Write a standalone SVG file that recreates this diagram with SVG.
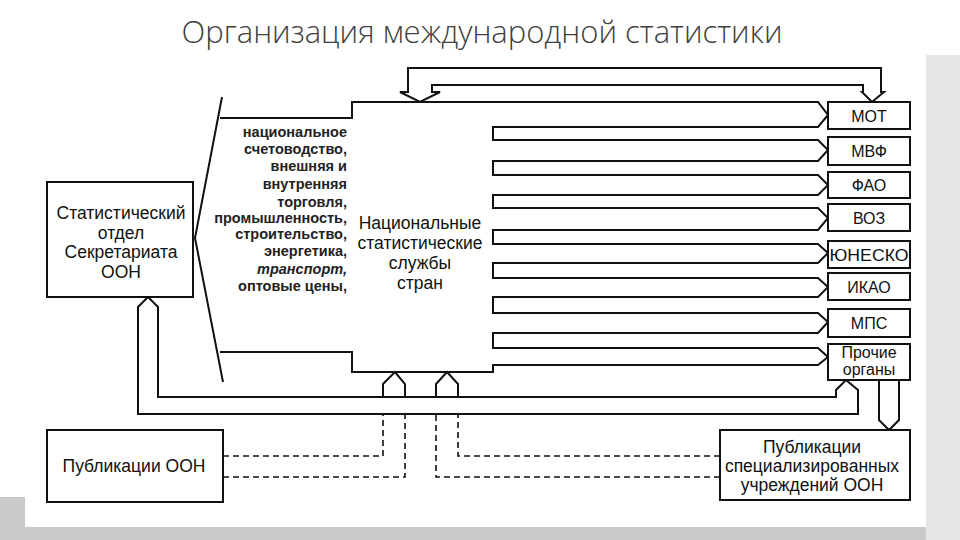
<svg xmlns="http://www.w3.org/2000/svg" width="960" height="540" viewBox="0 0 960 540">
<style>
.ln{fill:none;stroke:#111;stroke-width:2;stroke-linejoin:miter}
.bx{fill:#fff;stroke:#111;stroke-width:2}
.ds{fill:none;stroke:#111;stroke-width:1.6;stroke-dasharray:6 4}
.t{font-family:"Liberation Sans",Arial,sans-serif;fill:#111}
.lst{font-size:14.5px;text-anchor:end;font-weight:bold;fill:#222}
.c{text-anchor:middle;font-size:17.5px}
.b{text-anchor:middle;font-size:16px}
</style>
<rect width="960" height="540" fill="#fff"/>
<rect x="0" y="497" width="960" height="43" fill="#c9c9c9"/>
<rect x="926" y="55" width="34" height="485" fill="#e6e6e6"/>
<rect x="25" y="55" width="901" height="472" fill="#fff"/>
<text x="482" y="43" text-anchor="middle" font-family="'Open Sans','Liberation Sans',sans-serif" font-size="31" fill="#404040" font-weight="300">Организация международной статистики</text>

<g id="connectors">
<path class="ln" d="M222,97 L195,238 L223,382"/>
<path class="ln" d="M220,118 H352 V102 H818 L828,115 L818,127 H493 V140 H818 L828,150 L818,161 H493 V175 H818 L828,185 L818,195 H493 V208 H818 L828,218 L818,230 H493 V244 H818 L828,253 L818,263 H493 V278 H818 L828,287 L818,297 H493 V313 H818 L828,322 L818,333 H493 V348 H818 L828,357 L818,365 H493 V372 H352 V352 H220"/>
<path class="ln" d="M400,92 L420,102 L440,92 H432 V85 H863 V92 H862 L872,102 L884,92 H881 V68 H408 V92 Z"/>
<path class="ln" d="M138,307 L148,297 L158,307 V397 H836 V390 L846,380 L858,390 V414 H138 Z"/>
<path class="ln" d="M383,397 V384 L395,372 L405,384 V397"/>
<path class="ln" d="M436,397 V384 L447,372 L458,384 V397"/>
<path class="ln" d="M879,380 V420 L889,430 L899,420 V380"/>
<path class="ds" d="M223,456 H383 V414"/>
<path class="ds" d="M223,477 H405 V414"/>
<path class="ds" d="M720,456 H458 V414"/>
<path class="ds" d="M720,477 H436 V414"/>
</g>

<g id="stat-dept">
<rect class="bx" x="47" y="182" width="146" height="115"/>
<text class="t c" x="121" y="219">Статистический</text>
<text class="t c" x="121" y="239">отдел</text>
<text class="t c" x="121" y="258">Секретариата</text>
<text class="t c" x="121" y="278">ООН</text>
</g>

<g id="national">
<text class="t lst" x="347" y="137">национальное</text>
<text class="t lst" x="347" y="154">счетоводство,</text>
<text class="t lst" x="347" y="171">внешняя и</text>
<text class="t lst" x="347" y="189">внутренняя</text>
<text class="t lst" x="347" y="207">торговля,</text>
<text class="t lst" x="347" y="223">промышленность,</text>
<text class="t lst" x="347" y="239">строительство,</text>
<text class="t lst" x="347" y="256">энергетика,</text>
<text class="t lst" x="347" y="274" font-style="italic">транспорт,</text>
<text class="t lst" x="347" y="291">оптовые цены,</text>
<text class="t c" x="420" y="229">Национальные</text>
<text class="t c" x="420" y="249">статистические</text>
<text class="t c" x="420" y="269">службы</text>
<text class="t c" x="420" y="289">стран</text>
</g>

<g id="mot"><rect class="bx" x="828" y="102" width="82" height="27"/><text class="t b" x="869" y="122">МОТ</text></g>
<g id="mvf"><rect class="bx" x="828" y="137" width="82" height="28"/><text class="t b" x="869" y="157">МВФ</text></g>
<g id="fao"><rect class="bx" x="828" y="172" width="82" height="26"/><text class="t b" x="869" y="191">ФАО</text></g>
<g id="voz"><rect class="bx" x="828" y="204" width="82" height="27"/><text class="t b" x="869" y="224">ВОЗ</text></g>
<g id="unesco"><rect class="bx" x="828" y="241" width="82" height="27"/><text class="t b" x="869" y="261" textLength="79" lengthAdjust="spacingAndGlyphs">ЮНЕСКО</text></g>
<g id="ikao"><rect class="bx" x="828" y="273" width="82" height="27"/><text class="t b" x="869" y="293">ИКАО</text></g>
<g id="mps"><rect class="bx" x="828" y="309" width="82" height="28"/><text class="t b" x="869" y="329">МПС</text></g>
<g id="other"><rect class="bx" x="828" y="344" width="82" height="36"/><text class="t b" x="869" y="358" font-size="14">Прочие</text><text class="t b" x="869" y="375" font-size="14">органы</text></g>

<g id="pub-un"><rect class="bx" x="47" y="430" width="176" height="72"/><text class="t c" x="134" y="472">Публикации ООН</text></g>
<g id="pub-spec"><rect class="bx" x="720" y="430" width="190" height="70"/>
<text class="t c" x="812" y="453">Публикации</text>
<text class="t c" x="812" y="472">специализированных</text>
<text class="t c" x="812" y="491">учреждений ООН</text></g>
</svg>
